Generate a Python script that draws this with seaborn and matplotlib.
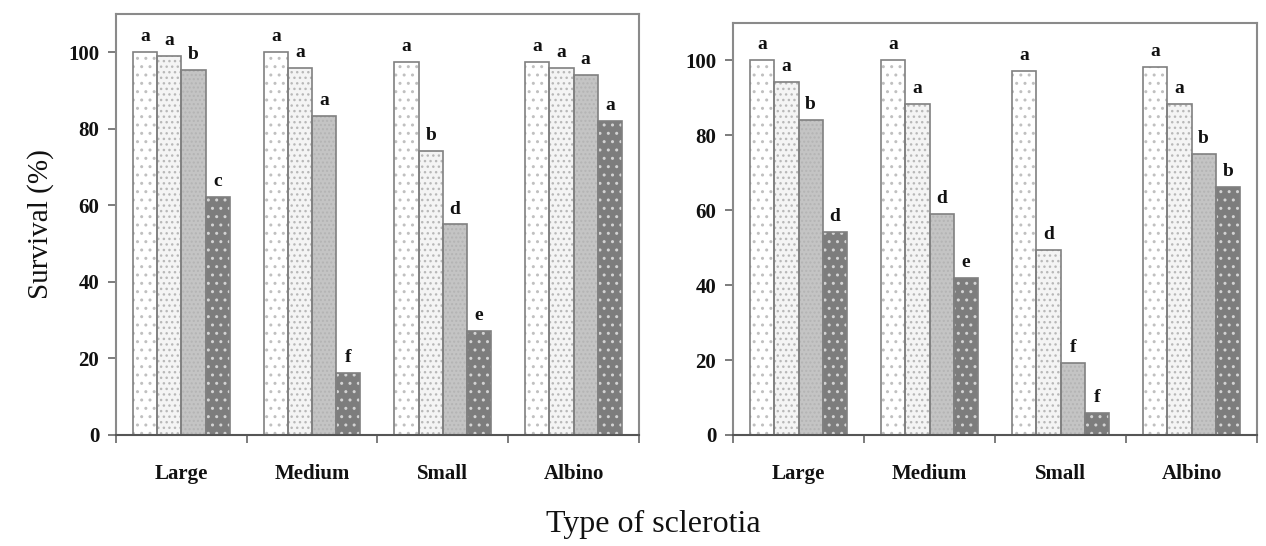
import matplotlib
matplotlib.use("Agg")
import matplotlib.pyplot as plt
from matplotlib.patches import Rectangle
import seaborn as sns
import pandas as pd
import numpy as np

sns.set_theme(style="white")
plt.rcParams['font.family'] = ['Liberation Serif', 'DejaVu Serif']
plt.rcParams['hatch.linewidth'] = 1.0

categories = ["Large", "Medium", "Small", "Albino"]
treatments = ["T1", "T2", "T3", "T4"]

# Left panel values (per category: T1..T4)
left_T1 = [100, 100, 97.4, 97.4]
left_T2 = [99.1, 96, 74.2, 96]
left_T3 = [95.3, 83.4, 55, 94.1]
left_T4 = [62.3, 16.2, 27.3, 82.1]
left_letters = [["a", "a", "b", "c"], ["a", "a", "a", "f"],
                ["a", "b", "d", "e"], ["a", "a", "a", "a"]]

# Right panel values
right_T1 = [100, 100, 97.3, 98.2]
right_T2 = [94.3, 88.3, 49.3, 88.3]
right_T3 = [84.1, 58.9, 19.2, 75]
right_T4 = [54.2, 41.8, 6, 66.3]
right_letters = [["a", "a", "b", "d"], ["a", "a", "d", "e"],
                 ["a", "d", "f", "f"], ["a", "a", "b", "b"]]

yticks = [0, 20, 40, 60, 80, 100]

face_colors = ["#ffffff", "#f4f4f4", "#c4c4c4", "#7d7d7d"]
hatch_colors = ["#c0c0c0", "#b8b8b8", "#b4b4b4", "#d4d4d4"]
hatches = ["..", "...", "....", ".."]


def make_df(t1, t2, t3, t4):
    rows = []
    for series, name in zip([t1, t2, t3, t4], treatments):
        for cat, v in zip(categories, series):
            rows.append({"cat": cat, "trt": name, "val": v})
    return pd.DataFrame(rows)


fig = plt.figure(figsize=(12.66, 5.46), dpi=100)
ax1 = fig.add_axes([0.0916, 0.2033, 0.4131, 0.7711])
ax2 = fig.add_axes([0.579, 0.2033, 0.4139, 0.7546])

panels = [(ax1, make_df(left_T1, left_T2, left_T3, left_T4), left_letters),
          (ax2, make_df(right_T1, right_T2, right_T3, right_T4), right_letters)]

for ax, df, letters in panels:
    sns.barplot(data=df, x="cat", y="val", hue="trt", order=categories,
                hue_order=treatments, palette=face_colors, width=0.74,
                gap=0, errorbar=None, legend=False, ax=ax, saturation=1)
    # patches are ordered by hue, then category
    bars = [p for p in ax.patches if isinstance(p, Rectangle)]
    for i, p in enumerate(bars):
        ti = i // len(categories)
        ci = i % len(categories)
        p.set_facecolor(face_colors[ti])
        p.set_hatch(hatches[ti])
        p.set_edgecolor(hatch_colors[ti])
        p.set_linewidth(0)
        ax.add_patch(Rectangle(p.get_xy(), p.get_width(), p.get_height(),
                               fill=False, edgecolor="#808080", lw=1.2, zorder=3))
        ax.annotate(letters[ci][ti],
                    (p.get_x() + p.get_width() / 2, p.get_height()),
                    xytext=(0, 5), textcoords="offset points",
                    ha="center", va="bottom", fontsize=14, fontweight="bold",
                    color="#111111")
    ax.set_ylim(0, 110)
    ax.set_xlim(-0.5, 3.5)
    ax.set_yticks(yticks)
    ax.set_yticklabels([str(t) for t in yticks], fontsize=15, fontweight="bold",
                       color="#111111")
    ax.set_xticks(range(len(categories)))
    ax.set_xticklabels(categories, fontsize=15, fontweight="bold", color="#111111")
    ax.set_xticks(np.arange(-0.5, 4.0, 1.0), minor=True)
    ax.tick_params(axis="x", which="major", length=0, pad=21)
    ax.tick_params(axis="x", which="minor", length=6, width=1.2,
                   color="#666666", direction="out", bottom=True)
    ax.tick_params(axis="y", which="major", length=6, width=1.2,
                   color="#666666", direction="out", left=True, pad=6)
    ax.set_xlabel("")
    ax.set_ylabel("")
    for side in ["top", "right", "left"]:
        ax.spines[side].set_color("#8a8a8a")
        ax.spines[side].set_linewidth(1.5)
        ax.spines[side].set_visible(True)
    ax.spines["bottom"].set_color("#555555")
    ax.spines["bottom"].set_linewidth(1.5)
    ax.spines["bottom"].set_zorder(4)
    ax.grid(False)

ax1.set_ylabel("Survival (%)", fontsize=21, color="#111111", labelpad=10)
fig.text(0.516, 0.04, "Type of sclerotia", ha="center", va="center",
         fontsize=23, color="#111111")

fig.savefig("out.png", dpi=100, facecolor="white")
